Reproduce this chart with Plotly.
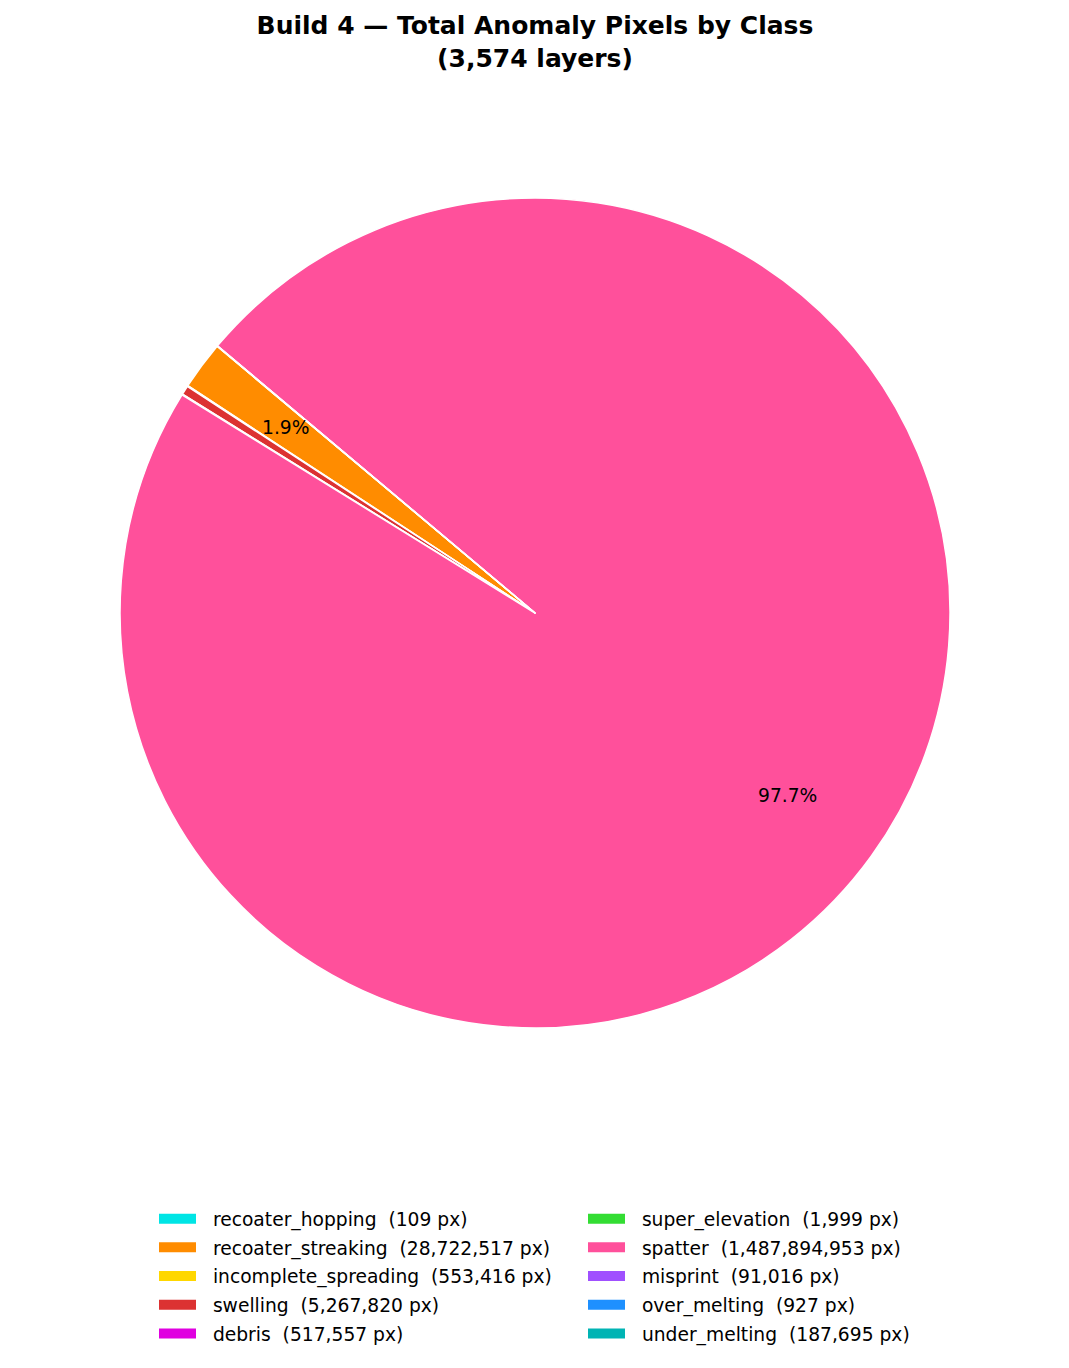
import math
import plotly.graph_objects as go

# ---- data ----
build_name = "Build 4"
n_layers = 3574
classes = ["recoater_hopping", "recoater_streaking", "incomplete_spreading", "swelling", "debris",
           "super_elevation", "spatter", "misprint", "over_melting", "under_melting"]
pixels = [109, 28722517, 553416, 5267820, 517557, 1999, 1487894953, 91016, 927, 187695]
colors = ["#00E5E5", "#FF8C00", "#FFD700", "#DC3232", "#E000E0",
          "#33DD33", "#FF509B", "#A050FF", "#1E90FF", "#00B4B4"]

# ---- layout constants (page pixels, page body has an 8px offset) ----
W, H = 1069, 1368
OFF = 8
cx_px, cy_px, r_px = 535 - OFF, 613 - OFF, 415
start_deg = 140          # math angle where first slice starts (counterclockwise)
pct_dist = 0.75
FONT = "DejaVu Sans"

dom_x = [(cx_px - r_px) / W, (cx_px + r_px) / W]
dom_y = [1 - (cy_px + r_px) / H, 1 - (cy_px - r_px) / H]

total = sum(pixels)

fig = go.Figure()
fig.add_trace(go.Pie(
    labels=classes, values=pixels, sort=False, direction="counterclockwise",
    rotation=90 - start_deg,
    marker=dict(colors=colors, line=dict(color="white", width=1.5)),
    textinfo="none", showlegend=False, domain=dict(x=dom_x, y=dom_y),
    hoverinfo="label+value+percent",
))

annotations = []
cum = 0.0
for lab, v in zip(classes, pixels):
    frac = v / total
    mid = math.radians(start_deg + 360 * (cum + frac / 2))
    cum += frac
    if frac > 0.01:
        x = (cx_px + pct_dist * r_px * math.cos(mid)) / W
        y = 1 - (cy_px - pct_dist * r_px * math.sin(mid)) / H
        annotations.append(dict(x=x, y=y, xref="paper", yref="paper", showarrow=False,
                                xanchor="center", yanchor="middle",
                                text=f"{frac * 100:.1f}%",
                                font=dict(family=FONT, size=18.7, color="black")))

for i, (lab, v, c) in enumerate(zip(classes, pixels, colors)):
    fig.add_trace(go.Scatter(
        x=[None], y=[None], mode="lines", line=dict(color=c, width=12),
        name=f"\u00a0\u00a0{lab}\u00a0 ({v:,} px)", legend="legend" if i < 5 else "legend2",
        legendgroup=lab, hoverinfo="skip",
    ))

leg_common = dict(orientation="v", xanchor="left", yanchor="top",
                  font=dict(family=FONT, size=18.7, color="black"),
                  itemwidth=37, tracegroupgap=1.4, bgcolor="rgba(0,0,0,0)",
                  traceorder="grouped")

leg_top = 1200 - OFF
fig.update_layout(
    width=W, height=H,
    margin=dict(l=0, r=0, t=0, b=0),
    paper_bgcolor="white", plot_bgcolor="white",
    title=dict(text=f"<b>{build_name} — Total Anomaly Pixels by Class<br>({n_layers:,} layers)</b>",
               x=(535 - OFF) / W, xanchor="center", y=1 - 26 / H, yanchor="top", yref="container",
               font=dict(family=FONT, size=25, color="black")),
    xaxis=dict(visible=False), yaxis=dict(visible=False),
    legend=dict(x=(154 - OFF) / W, y=1 - leg_top / H, **leg_common),
    legend2=dict(x=(583 - OFF) / W, y=1 - leg_top / H, **leg_common),
    annotations=annotations,
    showlegend=True,
)

fig.write_html("out.html")
